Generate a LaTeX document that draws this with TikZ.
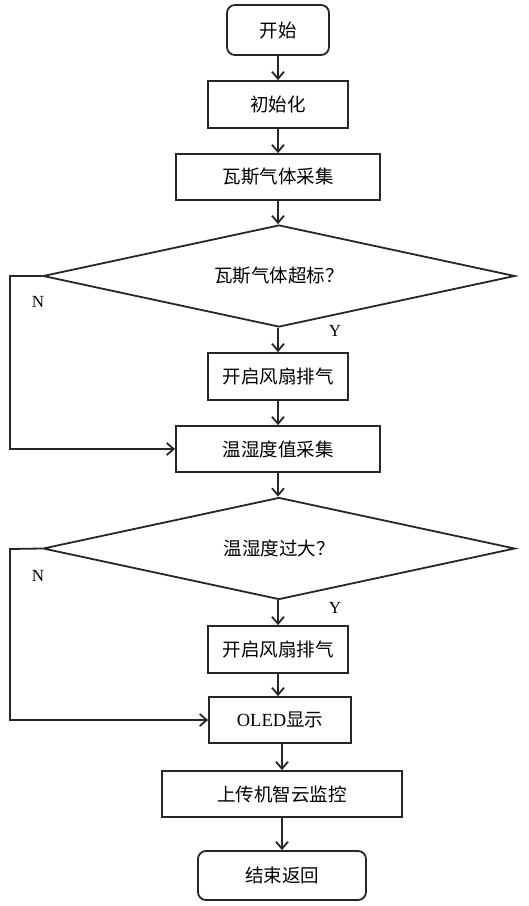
\documentclass[tikz,border=0pt]{standalone}
\usepackage{fontspec}
\setmainfont{Liberation Serif}
\newfontfamily\cjk{Noto Sans CJK SC}
\usetikzlibrary{shapes.geometric,arrows.meta}
\tikzset{
  base/.style={draw=black!85, line width=1.8pt, font=\cjk\fontsize{18.5}{22}\selectfont, inner sep=0pt},
  proc/.style={base, rectangle},
  term/.style={base, rectangle, rounded corners=8pt},
  dec/.style={base, diamond, aspect=4.63, minimum width=472pt, minimum height=102pt},
  flow/.style={draw=black!85, line width=1.8pt, -{Straight Barb[length=7pt,width=12pt,line width=1.8pt]}},
  lab/.style={font=\fontsize{17}{19}\selectfont}
}
\begin{document}
\begin{tikzpicture}[x=1pt,y=-1pt]
\useasboundingbox (0,0) rectangle (529,906);
\node[term, minimum width=102pt, minimum height=50pt] (start) at (278,30) {开始};
\node[proc, minimum width=140pt, minimum height=47pt] (init) at (278,104.5) {初始化};
\node[proc, minimum width=204pt, minimum height=46pt] (gas) at (278,177) {瓦斯气体采集};
\node[dec] (d1) at (279,276) {瓦斯气体超标？};
\node[proc, minimum width=140pt, minimum height=47pt] (fan1) at (278,376.5) {开启风扇排气};
\node[proc, minimum width=204pt, minimum height=46pt] (hum) at (278,449) {温湿度值采集};
\node[dec] (d2) at (279,548.5) {温湿度过大？};
\node[proc, minimum width=140pt, minimum height=47pt] (fan2) at (278,649.5) {开启风扇排气};
\node[proc, minimum width=142pt, minimum height=46pt] (oled) at (280,720) {{\fontspec{Liberation Serif}OLED}显示};
\node[proc, minimum width=240pt, minimum height=46pt] (up) at (282,794) {上传机智云监控};
\node[term, minimum width=168pt, minimum height=49pt] (end) at (282,875.5) {结束返回};

\coordinate (n1) at (10,276);
\coordinate (n2) at (10,549);

\draw[flow] (start) -- (init);
\draw[flow] (init) -- (gas);
\draw[flow] (gas) -- (gas.south |- d1.north);
\draw[flow] (d1.south -| fan1) -- (fan1);
\draw[flow] (fan1) -- (hum);
\draw[flow] (d1.west) -- (n1) |- (hum.west);
\draw[flow] (hum) -- (hum.south |- d2.north);
\draw[flow] (d2.south -| fan2) -- (fan2);
\draw[flow] (fan2) -- (fan2.south |- oled.north);
\draw[flow] (d2.west) -- (n2) |- (oled.west);
\draw[flow] (oled.south -| up.north) -- (up);
\draw[flow] (up) -- (end);

\node[lab] (nl1) at (38,302) {N};
\node[lab] (yl1) at (335,331) {Y};
\node[lab] (nl2) at (38,576) {N};
\node[lab] (yl2) at (335,608) {Y};
\end{tikzpicture}
\end{document}
